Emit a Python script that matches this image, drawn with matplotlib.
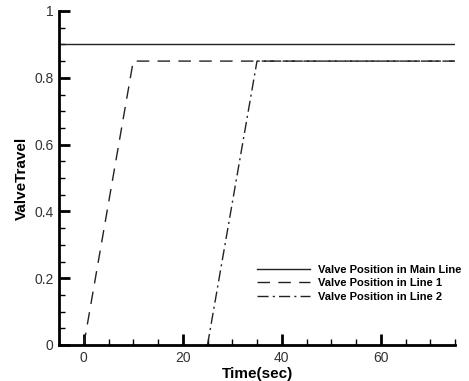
import numpy as np
import matplotlib.pyplot as plt
from matplotlib.ticker import MultipleLocator

plt.rcParams['font.family'] = ['Liberation Sans', 'DejaVu Sans']

# valve travel vs time
t_main = [-5, 75]
main_line = [0.9, 0.9]
t_line1 = [0, 10, 75]
line1 = [0, 0.85, 0.85]
t_line2 = [25, 35, 75]
line2 = [0, 0.85, 0.85]

fig = plt.figure(figsize=(4.69, 3.81), dpi=100)
ax = fig.add_axes([59 / 469, 1 - 345 / 381, (455 - 59) / 469, (345 - 11) / 381])

ax.plot(t_main, main_line, color='#222222', lw=1.0, label='Valve Position in Main Line')
ax.plot(t_line1, line1, color='#222222', lw=1.0, dashes=(9, 6), label='Valve Position in Line 1')
ax.plot(t_line2, line2, color='#222222', lw=1.0, dashes=(8, 3, 1.5, 3), label='Valve Position in Line 2')

ax.set_xlim(-5, 75)
ax.set_ylim(0, 1)
ax.xaxis.set_major_locator(MultipleLocator(20))
ax.xaxis.set_minor_locator(MultipleLocator(5))
ax.yaxis.set_major_locator(MultipleLocator(0.2))
ax.yaxis.set_minor_locator(MultipleLocator(0.05))
ax.set_yticks([0, 0.2, 0.4, 0.6, 0.8, 1])
ax.set_yticklabels(['0', '0.2', '0.4', '0.6', '0.8', '1'])

for s in ['top', 'right']:
    ax.spines[s].set_visible(False)
for s in ['left', 'bottom']:
    ax.spines[s].set_linewidth(2)

ax.tick_params(which='major', direction='in', length=8, width=2, labelsize=10, pad=4,
               labelcolor='#333333')
ax.tick_params(which='minor', direction='in', length=4, width=1)

ax.set_xlabel('Time(sec)', fontsize=11, fontweight='bold', labelpad=2)
ax.set_ylabel('ValveTravel', fontsize=11, fontweight='bold', labelpad=4)

ax.legend(loc='upper left', bbox_to_anchor=(257 / 469, 1 - 265 / 381),
          bbox_transform=fig.transFigure, frameon=False, borderpad=0, borderaxespad=0,
          prop={'size': 8, 'weight': 'bold'}, handlelength=4.8,
          labelspacing=0.3, handletextpad=0.7)

fig.savefig('out.png', dpi=100)
